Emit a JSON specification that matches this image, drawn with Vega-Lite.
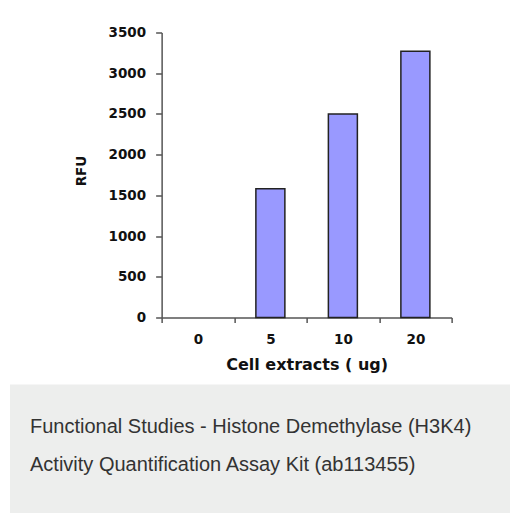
{
  "$schema": "https://vega.github.io/schema/vega-lite/v6.json",
  "background": "white",
  "padding": {"left": 10, "top": 25.5, "right": -94, "bottom": 0},
  "center": true,
  "spacing": 12,
  "config": {"view": {"stroke": null}},
  "vconcat": [
    {
      "width": 290,
      "height": 285,
      "data": {
        "values": [
          {"extract": "0", "rfu": 0},
          {"extract": "5", "rfu": 1580},
          {"extract": "10", "rfu": 2500},
          {"extract": "20", "rfu": 3270}
        ]
      },
      "mark": {"type": "bar", "fill": "#9999ff", "stroke": "#222222", "strokeWidth": 1.5, "width": {"band": 0.4}},
      "encoding": {
        "x": {
          "field": "extract",
          "type": "ordinal",
          "sort": ["0", "5", "10", "20"],
          "scale": {"paddingInner": 0, "paddingOuter": 0},
          "axis": {
            "title": "Cell extracts ( ug)",
            "labelAngle": 0,
            "tickBand": "extent",
            "tickSize": 5,
            "tickWidth": 1.5,
            "tickColor": "#555555",
            "domainColor": "#555555",
            "domainWidth": 1.5,
            "labelPadding": 10,
            "labelFont": "DejaVu Sans",
            "labelFontWeight": "bold",
            "labelFontSize": 13.5,
            "labelColor": "#111111",
            "titlePadding": 10,
            "titleFont": "DejaVu Sans",
            "titleFontWeight": "bold",
            "titleFontSize": 16,
            "titleColor": "#111111"
          }
        },
        "y": {
          "field": "rfu",
          "type": "quantitative",
          "scale": {"domain": [0, 3500], "nice": false},
          "axis": {
            "title": "RFU",
            "format": "d",
            "values": [0, 500, 1000, 1500, 2000, 2500, 3000, 3500],
            "grid": false,
            "tickSize": 6,
            "tickWidth": 1.5,
            "tickColor": "#555555",
            "domainColor": "#555555",
            "domainWidth": 1.5,
            "labelPadding": 10,
            "labelFont": "DejaVu Sans",
            "labelFontWeight": "bold",
            "labelFontSize": 13.5,
            "labelColor": "#111111",
            "titleFont": "DejaVu Sans",
            "titleFontWeight": "bold",
            "titleFontSize": 13.5,
            "titleColor": "#111111",
            "titleAngle": -90,
            "titleAlign": "center",
            "titleBaseline": "bottom",
            "titleX": -73,
            "titleY": 138
          }
        },
        "strokeOpacity": {"condition": {"test": "datum.rfu == 0", "value": 0}, "value": 1}
      }
    },
    {
      "width": 594,
      "height": 130,
      "view": {"fill": "#edeeed", "stroke": null},
      "data": {"values": []},
      "mark": "point",
      "title": {
        "text": ["Functional Studies - Histone Demethylase (H3K4)", "Activity Quantification Assay Kit (ab113455)"],
        "orient": "top",
        "anchor": "start",
        "frame": "group",
        "offset": -106,
        "dx": 20,
        "baseline": "alphabetic",
        "lineHeight": 38,
        "font": "Liberation Sans",
        "fontSize": 20,
        "fontWeight": "normal",
        "color": "#333333"
      }
    }
  ]
}
